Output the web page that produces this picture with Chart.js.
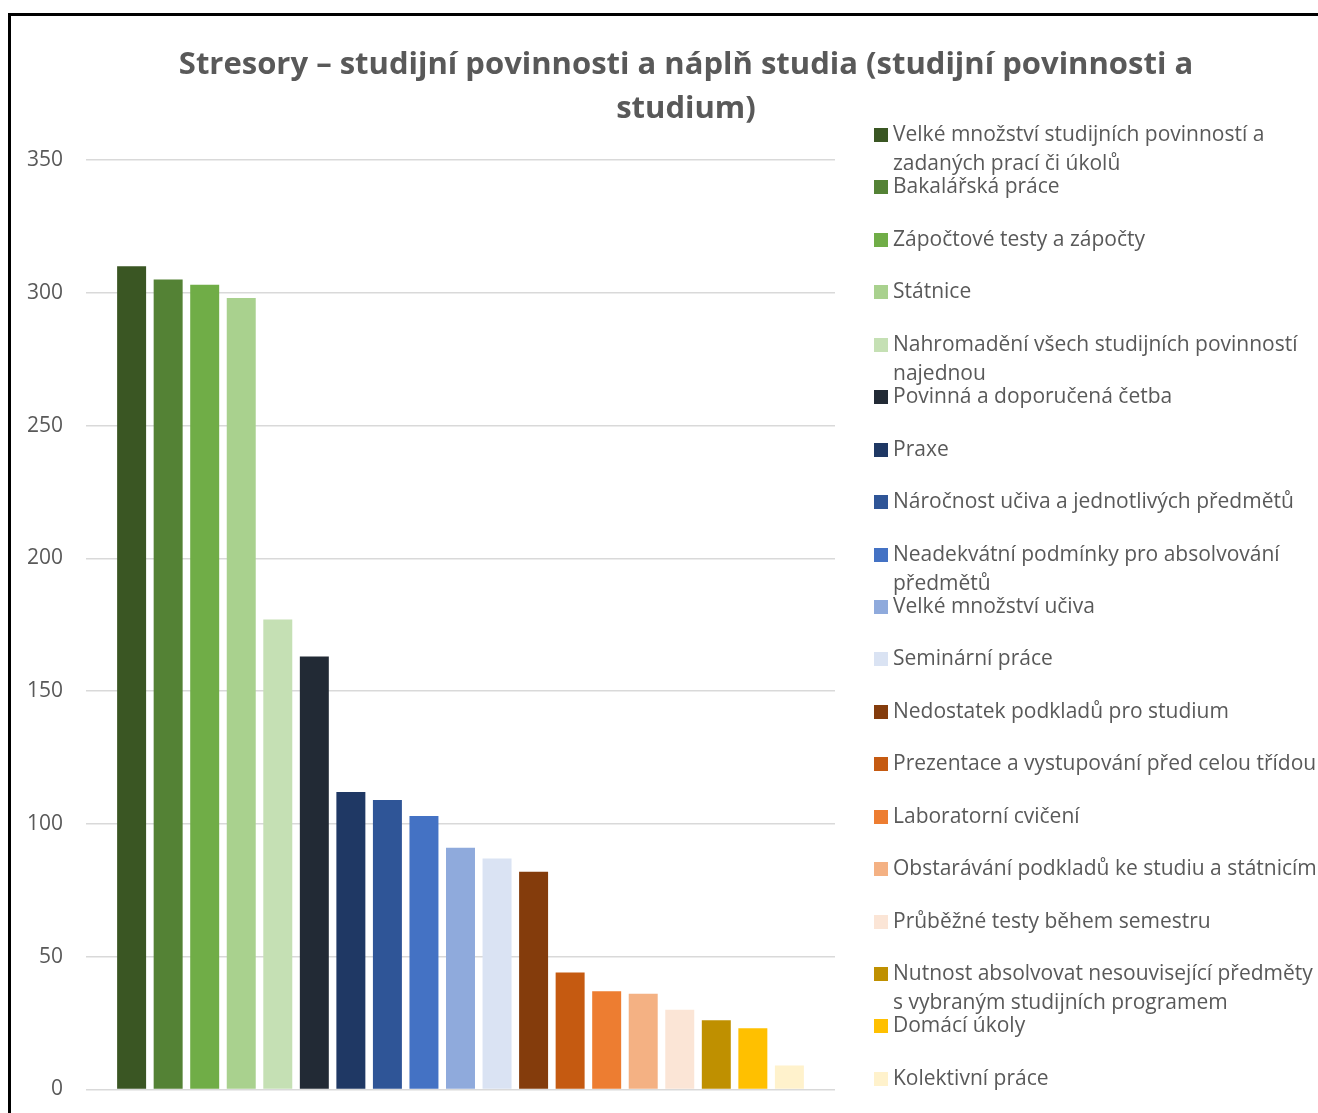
<!DOCTYPE html>
<html>
<head>
<meta charset="utf-8">
<script src="https://cdn.jsdelivr.net/npm/chart.js@4.4.1/dist/chart.umd.min.js"></script>
<style>
  html, body { margin: 0; padding: 0; background: #ffffff; overflow: hidden; width: 1318px; height: 1113px; }
  #frame { position: absolute; left: 8px; top: 13px; border: 3px solid #000; width: 1350px; height: 1109px; background: #fff; }
  #c { display: block; }
</style>
</head>
<body>
<div id="frame"><canvas id="c" width="1350" height="1109"></canvas></div>
<script>
const titleLines = ['Stresory – studijní povinnosti a náplň studia (studijní povinnosti a', 'studium)'];
const seriesNames = [
  ['Velké množství studijních povinností a', 'zadaných prací či úkolů'],
  ['Bakalářská práce'],
  ['Zápočtové testy a zápočty'],
  ['Státnice'],
  ['Nahromadění všech studijních povinností', 'najednou'],
  ['Povinná a doporučená četba'],
  ['Praxe'],
  ['Náročnost učiva a jednotlivých předmětů'],
  ['Neadekvátní podmínky pro absolvování', 'předmětů'],
  ['Velké množství učiva'],
  ['Seminární práce'],
  ['Nedostatek podkladů pro studium'],
  ['Prezentace a vystupování před celou třídou'],
  ['Laboratorní cvičení'],
  ['Obstarávání podkladů ke studiu a státnicím'],
  ['Průběžné testy během semestru'],
  ['Nutnost absolvovat nesouvisející předměty', 's vybraným studijních programem'],
  ['Domácí úkoly'],
  ['Kolektivní práce']
];
const seriesValues = [310, 305, 303, 298, 177, 163, 112, 109, 103, 91, 87, 82, 44, 37, 36, 30, 26, 23, 9];
const seriesColors = ['#3A5623', '#548235', '#70AD47', '#A9D18E', '#C5E0B4', '#222A35', '#1F3864', '#2F5597', '#4472C4', '#8FAADC', '#DAE3F3', '#843C0C', '#C55A11', '#ED7D31', '#F4B183', '#FBE5D6', '#BF9000', '#FFC000', '#FFF2CC'];
const yMin = 0, yMax = 350, yStep = 50;

const TEXT_COLOR = '#595959';
const FONT = '"Open Sans", Lato, sans-serif';

const sideLegend = {
  id: 'sideLegend',
  afterDraw(chart) {
    const ctx = chart.ctx;
    const x0 = 863, y0 = 119, step = 52.44, lineGap = 29, box = 14;
    ctx.save();
    ctx.font = '21px ' + FONT;
    ctx.textBaseline = 'middle';
    ctx.textAlign = 'left';
    chart.data.datasets.forEach((ds, i) => {
      const y = y0 + i * step;
      ctx.fillStyle = ds.backgroundColor;
      ctx.fillRect(x0, Math.round(y - box / 2), box, box);
      ctx.fillStyle = TEXT_COLOR;
      ds.nameLines.forEach((line, j) => ctx.fillText(line, x0 + 19, y + j * lineGap));
    });
    ctx.restore();
  }
};

function draw() {
  new Chart(document.getElementById('c'), {
    type: 'bar',
    data: {
      labels: [''],
      datasets: seriesNames.map((n, i) => ({
        label: n.join(' '),
        nameLines: n,
        data: [seriesValues[i]],
        backgroundColor: seriesColors[i],
        categoryPercentage: 0.927,
        barPercentage: 0.793
      }))
    },
    options: {
      responsive: false,
      animation: false,
      devicePixelRatio: 1,
      layout: { padding: 0 },
      plugins: {
        legend: { display: false },
        tooltip: { enabled: false },
        title: {
          display: true,
          text: titleLines,
          color: TEXT_COLOR,
          font: { family: FONT, size: 31, weight: 'bold', lineHeight: 44 / 31 },
          padding: { top: 27.5, bottom: 28.5 }
        }
      },
      scales: {
        x: { display: false },
        y: {
          min: yMin, max: yMax,
          ticks: { stepSize: yStep, padding: 23, color: TEXT_COLOR, font: { family: FONT, size: 21 } },
          grid: { color: '#d9d9d9', lineWidth: 1.5, drawTicks: false },
          border: { display: false },
          afterFit(s) { s.width = 75; }
        },
        legendSpace: {
          type: 'linear',
          position: 'right',
          display: true,
          grid: { display: false, drawTicks: false },
          ticks: { display: false },
          border: { display: false },
          afterFit(s) { s.width = 526; }
        }
      }
    },
    plugins: [sideLegend]
  });
}
if (document.fonts && document.fonts.load) {
  Promise.all([document.fonts.load('21px "Open Sans"'), document.fonts.load('bold 31px "Open Sans"')]).then(draw, draw);
} else { draw(); }
</script>
</body>
</html>
